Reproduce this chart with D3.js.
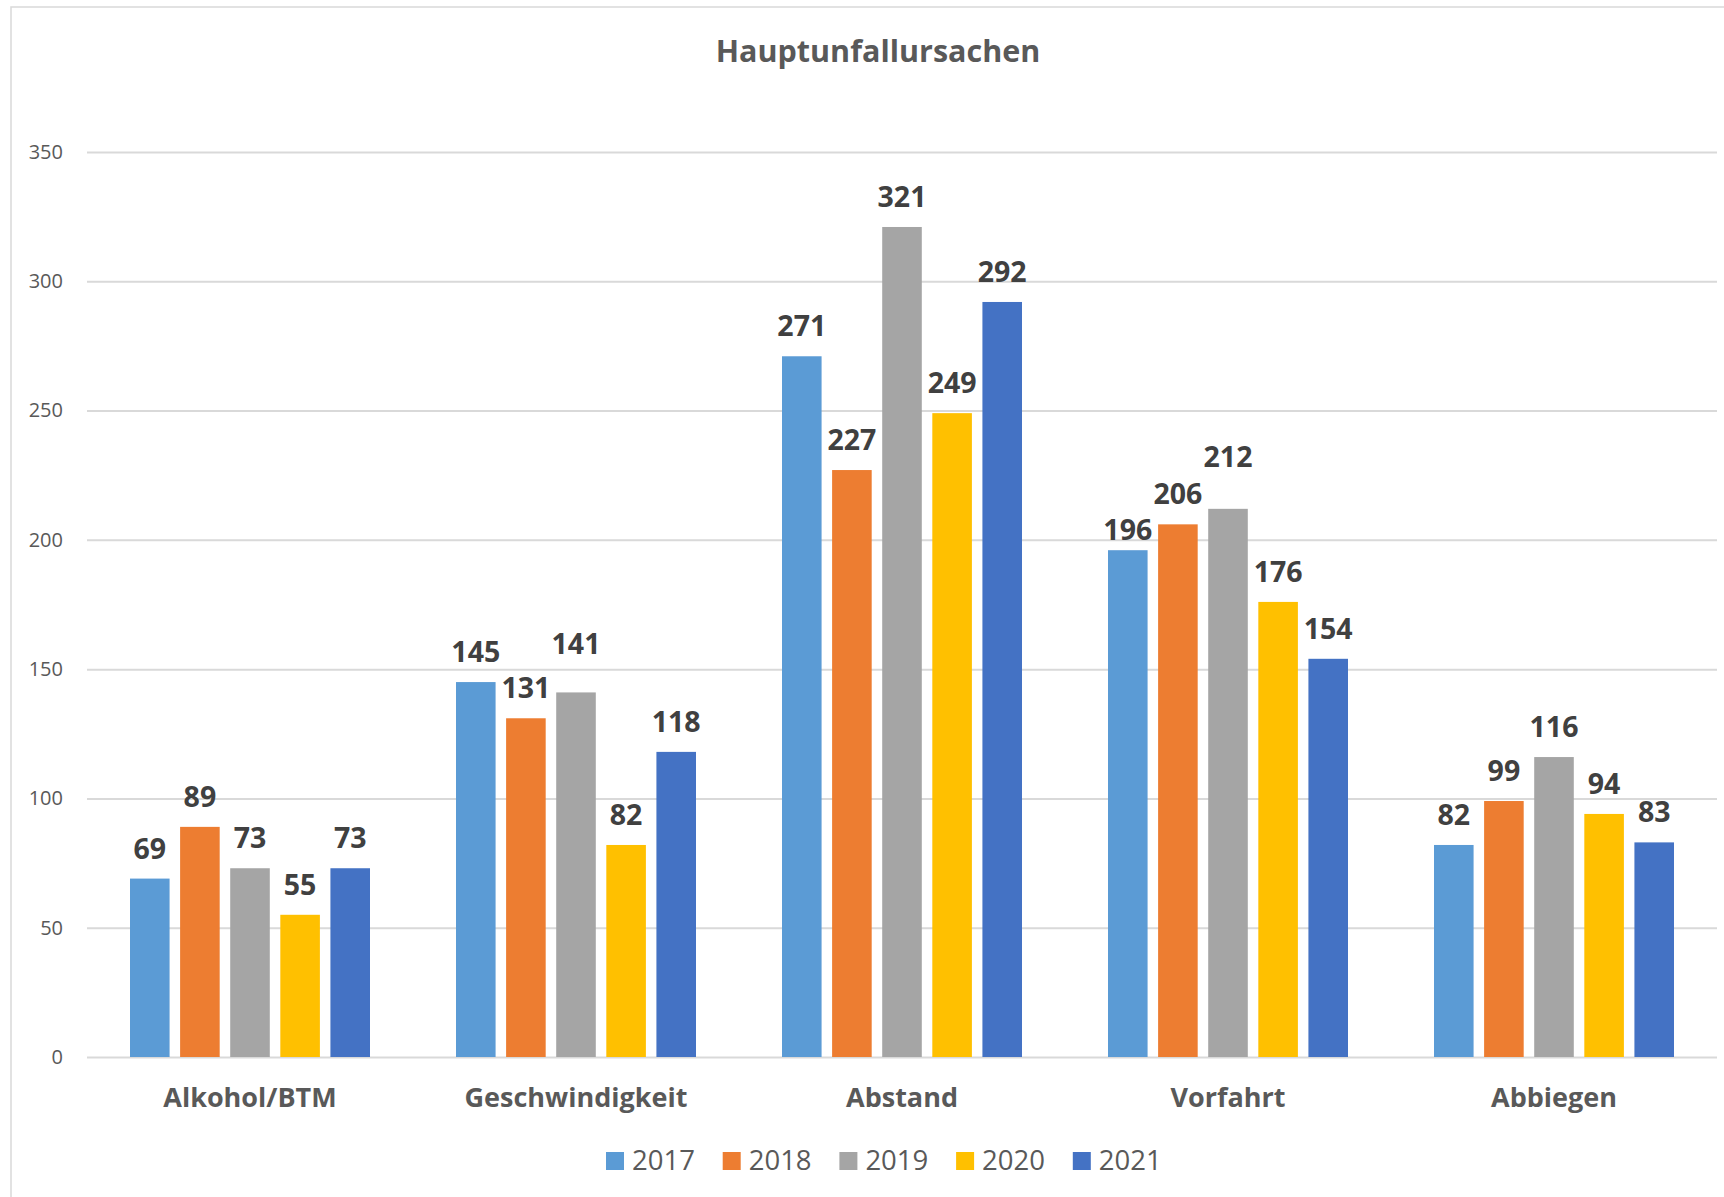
<!DOCTYPE html>
<html>
<head>
<meta charset="utf-8">
<script src="https://cdn.jsdelivr.net/npm/d3@7"></script>
<style>
  body { margin: 0; background: #fff; }
  svg { display: block; font-family: "Open Sans", sans-serif; }
</style>
</head>
<body>
<svg id="chart"></svg>
<script>
const categories = ["Alkohol/BTM", "Geschwindigkeit", "Abstand", "Vorfahrt", "Abbiegen"];
const years = ["2017", "2018", "2019", "2020", "2021"];
const values2017 = [69, 145, 271, 196, 82];
const values2018 = [89, 131, 227, 206, 99];
const values2019 = [73, 141, 321, 212, 116];
const values2020 = [55, 82, 249, 176, 94];
const values2021 = [73, 118, 292, 154, 83];
const yTicks = [0, 50, 100, 150, 200, 250, 300, 350];
const colors = ["#5B9BD5", "#ED7D31", "#A5A5A5", "#FFC000", "#4472C4"];

const series = [values2017, values2018, values2019, values2020, values2021];

const width = 1724, height = 1197;
const svg = d3.select("#chart")
  .attr("width", width)
  .attr("height", height)
  .attr("viewBox", [0, 0, width, height]);

// chart frame (only top and left edges are inside the picture)
svg.append("path")
  .attr("d", "M11," + height + "V7H" + width)
  .attr("fill", "none")
  .attr("stroke", "#d9d9d9")
  .attr("stroke-width", 1.5);

svg.append("text")
  .attr("x", 878)
  .attr("y", 62)
  .attr("text-anchor", "middle")
  .attr("fill", "#595959")
  .style("font-size", "30.5px")
  .style("font-weight", "700")
  .text("Hauptunfallursachen");

let x0 = d3.scaleBand().domain(categories).range([87, 1717]);
let x1 = d3.scaleBand().domain(years).range([43, 283]).paddingInner(0.21);
let y = d3.scaleLinear().domain([0, 350]).range([1057, 152]);

// gridlines + tick labels
let yAxis = d3.axisLeft(y).tickValues(yTicks).tickSize(-(1717 - 87)).tickPadding(24);
let gy = svg.append("g").attr("transform", "translate(87,0)").call(yAxis);
gy.select(".domain").remove();
gy.selectAll(".tick line").attr("stroke", "#d9d9d9").attr("stroke-width", 2);
gy.selectAll(".tick text")
  .attr("fill", "#595959")
  .style("font-size", "20px")
  .style("font-family", "'Open Sans', sans-serif");

// Excel nudged a few labels apart so they don't collide
function labelNudge(cat, yr) {
  if (cat == "Vorfahrt" && yr == "2017") return 10;
  if (cat == "Vorfahrt" && yr == "2019") return -22;
  if (cat == "Geschwindigkeit" && yr == "2019") return -18;
  return 0;
}

// bars
let groups = svg.append("g").selectAll("g").data(categories).join("g")
  .attr("transform", (d) => "translate(" + x0(d) + ",0)");

groups.each(function(cat, ci) {
  let g = d3.select(this);
  let rows = years.map((yr, si) => ({ year: yr, value: series[si][ci], color: colors[si] }));

  g.selectAll("rect").data(rows).join("rect")
    .attr("x", (d) => x1(d.year))
    .attr("y", (d) => y(d.value))
    .attr("width", x1.bandwidth())
    .attr("height", (d) => y(0) - y(d.value))
    .attr("fill", (d) => d.color);

  g.selectAll("text.val").data(rows).join("text")
    .attr("class", "val")
    .attr("x", (d) => x1(d.year) + x1.bandwidth() / 2)
    .attr("y", (d) => y(d.value) - 20 + labelNudge(cat, d.year))
    .attr("text-anchor", "middle")
    .attr("fill", "#404040")
    .style("font-size", "28.5px")
    .style("font-weight", "700")
    .text((d) => d.value);
});

// category labels
svg.append("g").selectAll("text").data(categories).join("text")
  .attr("x", (d) => x0(d) + x0.bandwidth() / 2)
  .attr("y", 1107)
  .attr("text-anchor", "middle")
  .attr("fill", "#595959")
  .style("font-size", "27px")
  .style("font-weight", "700")
  .text((d) => d);

// legend
let legend = svg.append("g").selectAll("g").data(years).join("g")
  .attr("transform", (d, i) => "translate(" + (606 + i * 116.7) + ",1152)");

legend.append("rect")
  .attr("width", 18)
  .attr("height", 18)
  .attr("fill", (d, i) => colors[i]);

legend.append("text")
  .attr("x", 26)
  .attr("y", 18)
  .attr("fill", "#595959")
  .style("font-size", "27.5px")
  .text((d) => d);
</script>
</body>
</html>
